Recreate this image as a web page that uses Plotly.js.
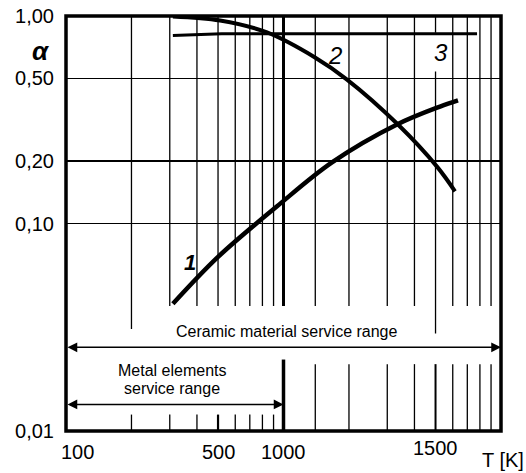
<!DOCTYPE html>
<html>
<head>
<meta charset="utf-8">
<script src="https://cdn.plot.ly/plotly-3.0.1.min.js"></script>
<style>html,body{margin:0;padding:0;background:#fff;}#chart{width:526px;height:473px;}</style>
</head>
<body>
<div id="chart"></div>
<script>
// ---- data (T in axis units, alpha) ----
const T1 = [310, 500, 934, 1671, 3325, 5244, 6343];
const A1 = [0.041, 0.069, 0.121, 0.197, 0.300, 0.366, 0.392];

const T2 = [310, 511, 840, 1396, 1959, 3360, 5078, 6144];
const A2 = [0.995, 0.951, 0.833, 0.631, 0.494, 0.300, 0.188, 0.143];

const T3 = [310, 420, 520, 7760];
const A3 = [0.805, 0.815, 0.822, 0.822];

// tick labels
const yTickVals = [0.01, 0.1, 0.2, 0.5, 1];
const yTickText = ['0,01', '0,10', '0,20', '0,50', '1,00'];
const xTickVals = [100, 500, 1000, 5000];
const xTickText = ['100', '500', '1000', '1500'];

// vertical grid lines
const gridUpper = [300, 400, 500, 600, 700, 800, 900, 1400, 2000, 3000, 4000, 6000, 7000, 8000, 9000];
const gridUpperLong = [200];
const gridMarked = [5000];
const gridBoundary = [1000];
const ticksLowFirst = [200, 300, 400, 600, 700, 800, 900];
const ticksLowFirstBold = [500];
const ticksLowSecond = [1400, 2000, 3000, 4000, 6000, 7000, 8000, 9000];
const ticksLowSecondBold = [5000];

// service ranges
const ceramicRange = [100, 10000];
const metalRange = [100, 1000];

const FONT = 'Liberation Sans, Arial, sans-serif';

function segs(xs, y0, y1) {
  const x = [], y = [];
  xs.forEach(v => { x.push(v, v, null); y.push(y0, y1, null); });
  return {x, y};
}
function gridTrace(xs, y0, y1, w) {
  const s = segs(xs, y0, y1);
  return {x: s.x, y: s.y, mode: 'lines', type: 'scatter', line: {color: '#000', width: w}, hoverinfo: 'skip', connectgaps: false};
}

const traces = [
  gridTrace(gridUpper, 1, 0.04, 1.3),
  gridTrace(gridUpperLong, 1, 0.031, 1.3),
  gridTrace(gridMarked, 1, 0.83, 1.3),
  gridTrace(gridMarked, 0.54, 0.0295, 1.3),
  gridTrace(gridBoundary, 1, 0.04, 3),
  gridTrace(gridBoundary, 0.0221, 0.01, 3.5),
  gridTrace(ticksLowFirst, 0.012, 0.01, 1.3),
  gridTrace(ticksLowFirstBold, 0.012, 0.01, 2.2),
  gridTrace(ticksLowSecond, 0.021, 0.01, 1.3),
  gridTrace(ticksLowSecondBold, 0.021, 0.01, 2),
  {x: T3, y: A3, mode: 'lines', type: 'scatter', line: {color: '#000', width: 3}},
  {x: T2, y: A2, mode: 'lines', type: 'scatter', line: {color: '#000', width: 4, shape: 'spline', smoothing: 1}},
  {x: T1, y: A1, mode: 'lines', type: 'scatter', line: {color: '#000', width: 4.5, shape: 'spline', smoothing: 1}}
];

const L = Math.log10;
const annotations = [];

// x tick labels
xTickVals.forEach((v, i) => {
  annotations.push({
    x: L(v), xref: 'x', y: 0, yref: 'paper',
    xanchor: i === 0 ? 'left' : 'center', xshift: i === 0 ? -7 : 0,
    yanchor: 'middle', yshift: i === 3 ? -17 : -21,
    text: xTickText[i], showarrow: false,
    font: {family: FONT, size: 20, color: '#000'}
  });
});

// range arrows
function rangeArrow(r, yv) {
  return {
    x: L(r[1]), y: L(yv), ax: L(r[0]), ay: L(yv),
    xref: 'x', yref: 'y', axref: 'x', ayref: 'y',
    text: '', showarrow: true, arrowhead: 2, arrowside: 'end+start',
    arrowsize: 1.3, arrowwidth: 1.5, arrowcolor: '#000', standoff: 0, startstandoff: 0
  };
}
annotations.push(rangeArrow(ceramicRange, 0.0253));
annotations.push(rangeArrow(metalRange, 0.01342));

const txt = (text, x, y, size, extra) => Object.assign({
  text, x, y, xref: 'paper', yref: 'paper', xanchor: 'center', yanchor: 'middle',
  showarrow: false, font: {family: FONT, size, color: '#000'}
}, extra || {});

annotations.push(txt('Ceramic material service range', 0.508, 0.2398, 16));
annotations.push(txt('Metal elements', 0.2437, 0.1458, 16));
annotations.push(txt('service range', 0.2437, 0.1024, 16));
annotations.push(txt('<i>2</i>', 0.618, 0.905, 24));
annotations.push(txt('<i>3</i>', 0.862, 0.912, 24));
annotations.push(txt('<b><i>1</i></b>', 0.285, 0.406, 22));
annotations.push(txt('<b><i>α</i></b>', -0.0575, 0.916, 26));
annotations.push(txt('T [K]', 1, 0, 20, {xanchor: 'right', xshift: 25, yshift: -29}));

const layout = {
  width: 526, height: 473,
  margin: {l: 66, r: 25, t: 16, b: 42, pad: 0},
  paper_bgcolor: '#fff', plot_bgcolor: '#fff',
  showlegend: false,
  xaxis: {type: 'log', range: [2, 4], showgrid: false, zeroline: false, showline: false,
          showticklabels: false, ticks: ''},
  yaxis: {type: 'log', range: [-2, 0], tickvals: yTickVals, ticktext: yTickText,
          showgrid: true, gridcolor: '#000', gridwidth: 1.5, zeroline: false, showline: false,
          ticks: '', ticklabelstandoff: 11,
          tickfont: {family: FONT, size: 20, color: '#000'}},
  shapes: [{type: 'rect', xref: 'paper', yref: 'paper', x0: 0, x1: 1, y0: 0, y1: 1,
            line: {color: '#000', width: 3.5}, layer: 'above'}],
  annotations
};

Plotly.newPlot('chart', traces, layout, {staticPlot: true, displayModeBar: false});
</script>
</body>
</html>
